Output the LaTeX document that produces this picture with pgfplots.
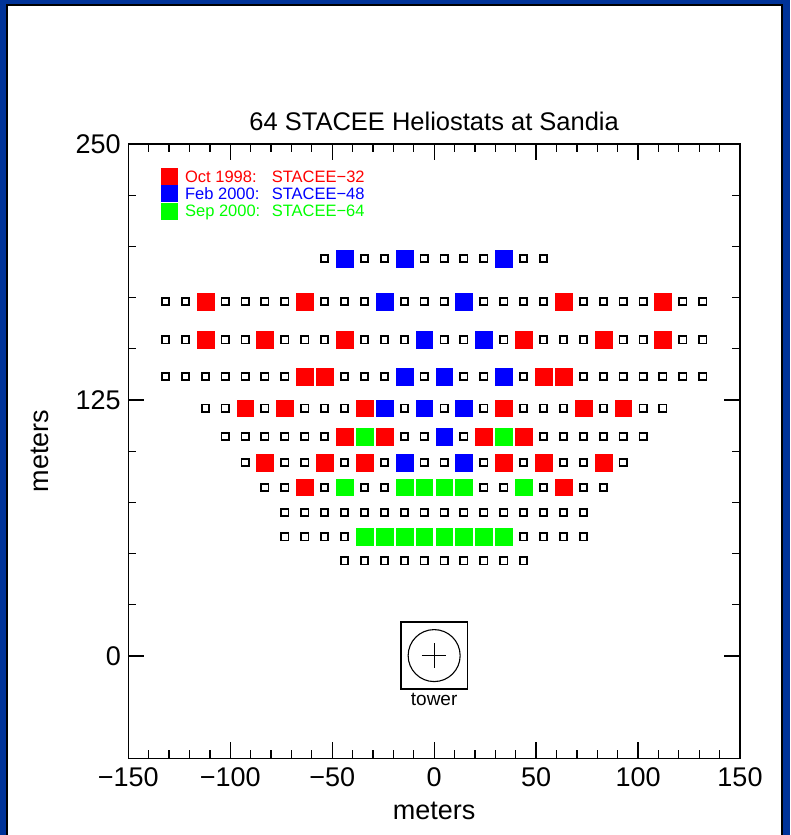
\documentclass[border=0pt]{standalone}
\usepackage{pgfplots}
\pgfplotsset{compat=1.18}
\usepackage{fontspec}
\setmainfont{Liberation Sans}
\definecolor{frameblue}{RGB}{0,51,153}
\definecolor{hred}{RGB}{255,0,0}
\definecolor{hblue}{RGB}{0,0,255}
\definecolor{hgreen}{RGB}{0,255,0}
\begin{document}
\begin{tikzpicture}
\path[use as bounding box] (0pt,0pt) rectangle (790pt,835pt);
\fill[frameblue] (0pt,0pt) rectangle (790pt,835pt);
\filldraw[fill=white, draw=black, line width=2pt] (7pt,-10pt) rectangle (782pt,830pt);
\begin{axis}[
  scale only axis, width=611.7pt, height=614.4pt,
  at={(128.3pt,76.6pt)}, anchor=south west,
  xmin=-150, xmax=150, ymin=-50, ymax=250,
  xtick={-150,-100,-50,0,50,100,150},
  xticklabels={−150,−100,−50,0,50,100,150},
  ytick={0,125,250}, yticklabels={0,125,250},
  minor x tick num=4, minor y tick num=4,
  tick pos=both, xticklabel pos=lower, yticklabel pos=left,
  tick align=inside,
  major tick length=16pt, minor tick length=8pt,
  axis line style={line width=1.6pt},
  every tick/.style={line width=1.3pt, black},
  tick label style={font=\fontsize{27}{30}\selectfont},
  xticklabel style={yshift=-6pt},
  yticklabel style={xshift=-4pt},
  xlabel={meters}, ylabel={meters},
  label style={font=\fontsize{27}{30}\selectfont},
  xlabel style={at={(axis description cs:0.5,0)}, anchor=base, yshift=-61pt},
  ylabel style={at={(axis description cs:0,0.5)}, anchor=base, yshift=80pt},
  title={64 STACEE Heliostats at Sandia},
  title style={at={(axis description cs:0.5,1)}, anchor=base, yshift=7pt, font=\fontsize{25.5}{28}\selectfont},
  legend cell align=left,
  legend style={at={(0.053,0.961)}, anchor=north west, draw=none, fill=none,
    inner sep=0pt, outer sep=0pt, row sep=1pt, column sep=8pt,
    font=\fontsize{16.5}{18}\selectfont,
    nodes={inner sep=0pt, text height=12pt, text depth=0pt}},
  clip=false,
]
% all heliostat positions (open squares)
\pgfplotsset{field/.style={only marks, mark=square, mark size=3.6pt, mark options={line width=1.8pt, draw=black}, forget plot}}
\addplot[field] coordinates {(-53.7,194) (-43.9,194) (-34.2,194) (-24.4,194) (-14.6,194) (-4.9,194) (4.9,194) (14.6,194) (24.4,194) (34.2,194) (43.9,194) (53.7,194)};
\addplot[field] coordinates {(-131.8,173) (-122.0,173) (-112.2,173) (-102.5,173) (-92.7,173) (-83.0,173) (-73.2,173) (-63.4,173) (-53.7,173) (-43.9,173) (-34.2,173) (-24.4,173) (-14.6,173) (-4.9,173) (4.9,173) (14.6,173) (24.4,173) (34.2,173) (43.9,173) (53.7,173) (63.4,173) (73.2,173) (83.0,173) (92.7,173) (102.5,173) (112.2,173) (122.0,173) (131.8,173)};
\addplot[field] coordinates {(-131.8,154.3) (-122.0,154.3) (-112.2,154.3) (-102.5,154.3) (-92.7,154.3) (-83.0,154.3) (-73.2,154.3) (-63.4,154.3) (-53.7,154.3) (-43.9,154.3) (-34.2,154.3) (-24.4,154.3) (-14.6,154.3) (-4.9,154.3) (4.9,154.3) (14.6,154.3) (24.4,154.3) (34.2,154.3) (43.9,154.3) (53.7,154.3) (63.4,154.3) (73.2,154.3) (83.0,154.3) (92.7,154.3) (102.5,154.3) (112.2,154.3) (122.0,154.3) (131.8,154.3)};
\addplot[field] coordinates {(-131.8,136.4) (-122.0,136.4) (-112.2,136.4) (-102.5,136.4) (-92.7,136.4) (-83.0,136.4) (-73.2,136.4) (-63.4,136.4) (-53.7,136.4) (-43.9,136.4) (-34.2,136.4) (-24.4,136.4) (-14.6,136.4) (-4.9,136.4) (4.9,136.4) (14.6,136.4) (24.4,136.4) (34.2,136.4) (43.9,136.4) (53.7,136.4) (63.4,136.4) (73.2,136.4) (83.0,136.4) (92.7,136.4) (102.5,136.4) (112.2,136.4) (122.0,136.4) (131.8,136.4)};
\addplot[field] coordinates {(-112.2,121) (-102.5,121) (-92.7,121) (-83.0,121) (-73.2,121) (-63.4,121) (-53.7,121) (-43.9,121) (-34.2,121) (-24.4,121) (-14.6,121) (-4.9,121) (4.9,121) (14.6,121) (24.4,121) (34.2,121) (43.9,121) (53.7,121) (63.4,121) (73.2,121) (83.0,121) (92.7,121) (102.5,121) (112.2,121)};
\addplot[field] coordinates {(-102.5,107.1) (-92.7,107.1) (-83.0,107.1) (-73.2,107.1) (-63.4,107.1) (-53.7,107.1) (-43.9,107.1) (-34.2,107.1) (-24.4,107.1) (-14.6,107.1) (-4.9,107.1) (4.9,107.1) (14.6,107.1) (24.4,107.1) (34.2,107.1) (43.9,107.1) (53.7,107.1) (63.4,107.1) (73.2,107.1) (83.0,107.1) (92.7,107.1) (102.5,107.1)};
\addplot[field] coordinates {(-92.7,94.4) (-83.0,94.4) (-73.2,94.4) (-63.4,94.4) (-53.7,94.4) (-43.9,94.4) (-34.2,94.4) (-24.4,94.4) (-14.6,94.4) (-4.9,94.4) (4.9,94.4) (14.6,94.4) (24.4,94.4) (34.2,94.4) (43.9,94.4) (53.7,94.4) (63.4,94.4) (73.2,94.4) (83.0,94.4) (92.7,94.4)};
\addplot[field] coordinates {(-83.0,82.4) (-73.2,82.4) (-63.4,82.4) (-53.7,82.4) (-43.9,82.4) (-34.2,82.4) (-24.4,82.4) (-14.6,82.4) (-4.9,82.4) (4.9,82.4) (14.6,82.4) (24.4,82.4) (34.2,82.4) (43.9,82.4) (53.7,82.4) (63.4,82.4) (73.2,82.4) (83.0,82.4)};
\addplot[field] coordinates {(-73.2,70) (-63.4,70) (-53.7,70) (-43.9,70) (-34.2,70) (-24.4,70) (-14.6,70) (-4.9,70) (4.9,70) (14.6,70) (24.4,70) (34.2,70) (43.9,70) (53.7,70) (63.4,70) (73.2,70)};
\addplot[field] coordinates {(-73.2,58.2) (-63.4,58.2) (-53.7,58.2) (-43.9,58.2) (-34.2,58.2) (-24.4,58.2) (-14.6,58.2) (-4.9,58.2) (4.9,58.2) (14.6,58.2) (24.4,58.2) (34.2,58.2) (43.9,58.2) (53.7,58.2) (63.4,58.2) (73.2,58.2)};
\addplot[field] coordinates {(-43.9,46.4) (-34.2,46.4) (-24.4,46.4) (-14.6,46.4) (-4.9,46.4) (4.9,46.4) (14.6,46.4) (24.4,46.4) (34.2,46.4) (43.9,46.4)};
% STACEE heliostats
\addplot[only marks, mark=square*, mark size=8.4pt, mark options={fill=hred, draw=hred, line width=0.3pt},
  legend image code/.code={\fill[hred] (0pt,-8pt) rectangle (16pt,8pt);}]
 coordinates {(-112.2,173) (-63.4,173) (63.4,173) (112.2,173)
 (-112.2,154.3) (-83.0,154.3) (-43.9,154.3) (43.9,154.3) (83.0,154.3) (112.2,154.3)
 (-63.4,136.4) (-53.7,136.4) (53.7,136.4) (63.4,136.4)
 (-92.7,121) (-73.2,121) (-34.2,121) (34.2,121) (73.2,121) (92.7,121)
 (-43.9,107.1) (-24.4,107.1) (24.4,107.1) (43.9,107.1)
 (-83.0,94.4) (-53.7,94.4) (-34.2,94.4) (34.2,94.4) (53.7,94.4) (83.0,94.4)
 (-63.4,82.4) (63.4,82.4)};
\addlegendentry{\textcolor{hred}{\makebox[86.7pt][l]{Oct 1998:}STACEE−32}}
\addplot[only marks, mark=square*, mark size=8.4pt, mark options={fill=hblue, draw=hblue, line width=0.3pt},
  legend image code/.code={\fill[hblue] (0pt,-8pt) rectangle (16pt,8pt);}]
 coordinates {(-43.9,194) (-14.6,194) (34.2,194)
 (-24.4,173) (14.6,173)
 (-4.9,154.3) (24.4,154.3)
 (-14.6,136.4) (4.9,136.4) (34.2,136.4)
 (-24.4,121) (-4.9,121) (14.6,121)
 (4.9,107.1)
 (-14.6,94.4) (14.6,94.4)};
\addlegendentry{\textcolor{hblue}{\makebox[86.7pt][l]{Feb 2000:}STACEE−48}}
\addplot[only marks, mark=square*, mark size=8.4pt, mark options={fill=hgreen, draw=hgreen, line width=0.3pt},
  legend image code/.code={\fill[hgreen] (0pt,-8pt) rectangle (16pt,8pt);}]
 coordinates {(-34.2,107.1) (34.2,107.1)
 (-43.9,82.4) (-14.6,82.4) (-4.9,82.4) (4.9,82.4) (14.6,82.4) (43.9,82.4)
 (-34.2,58.2) (-24.4,58.2) (-14.6,58.2) (-4.9,58.2) (4.9,58.2) (14.6,58.2) (24.4,58.2) (34.2,58.2)};
\addlegendentry{\textcolor{hgreen}{\makebox[86.7pt][l]{Sep 2000:}STACEE−64}}
% tower
\addplot[only marks, mark=square, mark size=33.4pt, mark options={line width=1.5pt, draw=black}, forget plot] coordinates {(0,0.2)};
\addplot[only marks, mark=o, mark size=26pt, mark options={line width=1.1pt, draw=black}, forget plot] coordinates {(0,0.2)};
\addplot[only marks, mark=+, mark size=12.3pt, mark options={line width=1.1pt, draw=black}, forget plot] coordinates {(0,0.2)};
\node[anchor=base, font=\fontsize{19}{21}\selectfont] at (axis cs:0,-24.4) {tower};
\end{axis}
\end{tikzpicture}
\end{document}
